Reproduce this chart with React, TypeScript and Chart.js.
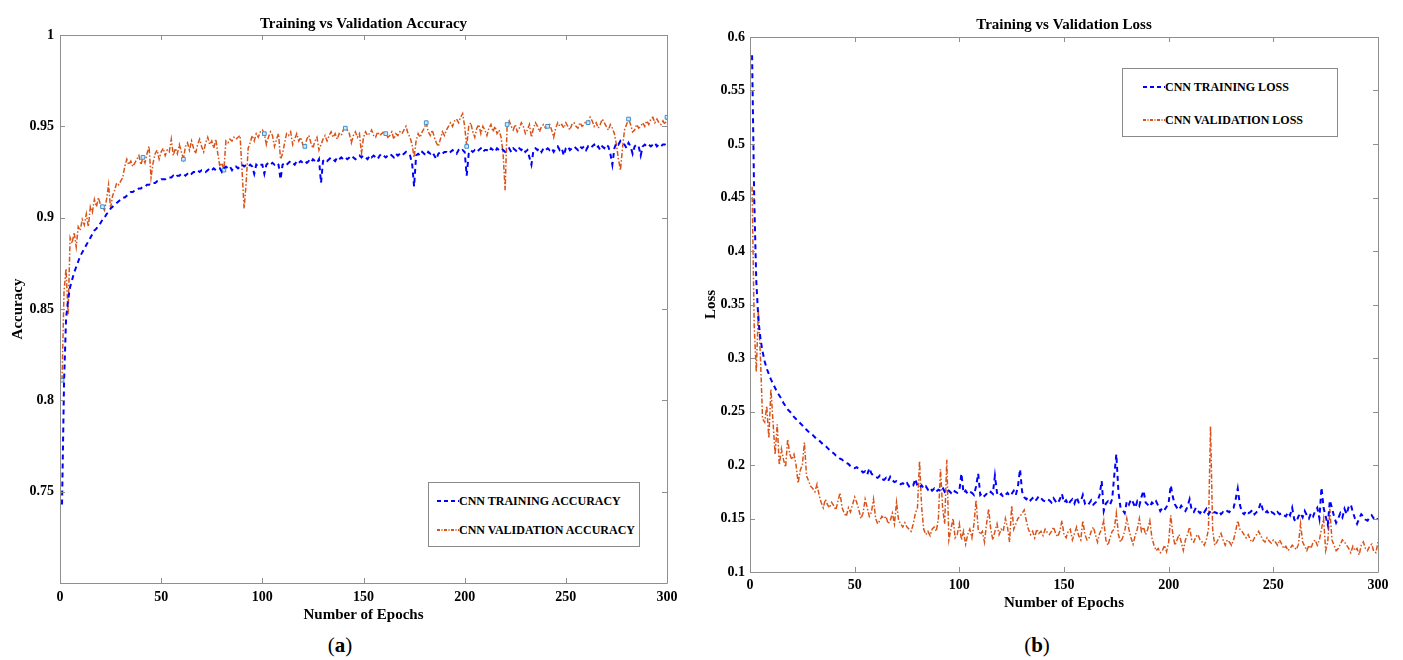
import React, { useEffect, useRef } from "react";
import { Chart, registerables } from "chart.js";

Chart.register(...registerables);

// ---------------- data ----------------
const EPOCHS = Array.from({ length: 300 }, (_, i) => i + 1);
const X_TICKS = [0, 50, 100, 150, 200, 250, 300];
const X_LABELS = ["0", "50", "100", "150", "200", "250", "300"];
const ACC_Y_TICKS = [0.7, 0.75, 0.8, 0.85, 0.9, 0.95, 1];
const ACC_Y_LABELS = ["", "0.75", "0.8", "0.85", "0.9", "0.95", "1"];
const LOSS_Y_TICKS = [0.1, 0.15, 0.2, 0.25, 0.3, 0.35, 0.4, 0.45, 0.5, 0.55, 0.6];
const LOSS_Y_LABELS = ["0.1", "0.15", "0.2", "0.25", "0.3", "0.35", "0.4", "0.45", "0.5", "0.55", "0.6"];
const MARKER_EPOCHS = [1, 21, 41, 61, 81, 101, 121, 141, 161, 181, 201, 221, 241, 261, 281, 300];

const TRAIN_ACC = [
  0.743, 0.810, 0.845, 0.855, 0.862, 0.866, 0.870, 0.873, 0.876, 0.879,
  0.881, 0.883, 0.885, 0.887, 0.889, 0.891, 0.893, 0.894, 0.896, 0.897,
  0.899, 0.900, 0.902, 0.903, 0.905, 0.906, 0.907, 0.908, 0.909, 0.910,
  0.911, 0.911, 0.912, 0.913, 0.914, 0.914, 0.915, 0.915, 0.916, 0.916,
  0.917, 0.917, 0.918, 0.918, 0.919, 0.919, 0.919, 0.920, 0.920, 0.921,
  0.921, 0.921, 0.922, 0.922, 0.922, 0.923, 0.922, 0.923, 0.923, 0.924,
  0.924, 0.923, 0.924, 0.925, 0.924, 0.925, 0.925, 0.926, 0.925, 0.926,
  0.926, 0.925, 0.926, 0.927, 0.926, 0.927, 0.926, 0.927, 0.927, 0.925,
  0.927, 0.928, 0.927, 0.928, 0.926, 0.928, 0.928, 0.927, 0.928, 0.929,
  0.928, 0.929, 0.928, 0.929, 0.928, 0.924, 0.929, 0.928, 0.929, 0.929,
  0.924, 0.929, 0.930, 0.929, 0.930, 0.929, 0.930, 0.929, 0.921, 0.929,
  0.930, 0.929, 0.930, 0.931, 0.930, 0.929, 0.931, 0.930, 0.931, 0.930,
  0.931, 0.930, 0.931, 0.930, 0.932, 0.931, 0.930, 0.932, 0.919, 0.931,
  0.932, 0.931, 0.932, 0.933, 0.932, 0.931, 0.933, 0.932, 0.933, 0.932,
  0.933, 0.932, 0.933, 0.934, 0.933, 0.932, 0.933, 0.934, 0.933, 0.934,
  0.933, 0.932, 0.934, 0.933, 0.934, 0.933, 0.932, 0.934, 0.935, 0.934,
  0.933, 0.934, 0.935, 0.934, 0.933, 0.935, 0.934, 0.935, 0.934, 0.935,
  0.936, 0.935, 0.934, 0.930, 0.917, 0.934, 0.935, 0.934, 0.936, 0.935,
  0.934, 0.936, 0.935, 0.936, 0.934, 0.932, 0.935, 0.936, 0.935, 0.936,
  0.936, 0.935, 0.936, 0.937, 0.936, 0.935, 0.937, 0.936, 0.937, 0.936,
  0.923, 0.935, 0.937, 0.936, 0.937, 0.936, 0.937, 0.938, 0.936, 0.937,
  0.937, 0.936, 0.938, 0.937, 0.936, 0.938, 0.937, 0.938, 0.937, 0.936,
  0.937, 0.938, 0.936, 0.938, 0.937, 0.936, 0.938, 0.937, 0.938, 0.936,
  0.937, 0.933, 0.929, 0.937, 0.938, 0.937, 0.938, 0.936, 0.938, 0.937,
  0.938, 0.937, 0.938, 0.936, 0.938, 0.939, 0.937, 0.938, 0.934, 0.938,
  0.939, 0.937, 0.938, 0.939, 0.938, 0.937, 0.939, 0.938, 0.939, 0.937,
  0.939, 0.938, 0.939, 0.940, 0.938, 0.939, 0.937, 0.939, 0.938, 0.940,
  0.939, 0.935, 0.929, 0.938, 0.941, 0.940, 0.942, 0.941, 0.940, 0.938,
  0.941, 0.939, 0.935, 0.939, 0.940, 0.939, 0.934, 0.939, 0.940, 0.939,
  0.940, 0.939, 0.940, 0.941, 0.939, 0.940, 0.939, 0.940, 0.940, 0.939,
];

const VAL_ACC = [
  0.811, 0.860, 0.872, 0.847, 0.889, 0.886, 0.892, 0.884, 0.895, 0.893,
  0.899, 0.896, 0.902, 0.895, 0.906, 0.903, 0.910, 0.906, 0.911, 0.907,
  0.906, 0.904, 0.910, 0.918, 0.905, 0.912, 0.915, 0.919, 0.918, 0.920,
  0.922, 0.928, 0.932, 0.929, 0.931, 0.928, 0.930, 0.932, 0.934, 0.929,
  0.933, 0.930, 0.935, 0.939, 0.922, 0.930, 0.935, 0.937, 0.932, 0.936,
  0.938, 0.934, 0.937, 0.936, 0.943, 0.934, 0.938, 0.935, 0.940, 0.936,
  0.932, 0.939, 0.941, 0.937, 0.942, 0.938, 0.935, 0.940, 0.943, 0.939,
  0.936, 0.941, 0.944, 0.940, 0.942, 0.938, 0.943, 0.935, 0.928, 0.930,
  0.926, 0.942, 0.941, 0.943, 0.942, 0.944, 0.943, 0.944, 0.945, 0.925,
  0.905, 0.919, 0.938, 0.941, 0.945, 0.942, 0.946, 0.944, 0.947, 0.948,
  0.946, 0.940, 0.944, 0.947, 0.945, 0.939, 0.943, 0.946, 0.932, 0.935,
  0.941, 0.946, 0.945, 0.947, 0.940, 0.943, 0.946, 0.942, 0.944, 0.940,
  0.939, 0.943, 0.945, 0.941, 0.938, 0.942, 0.944, 0.937, 0.940, 0.943,
  0.945, 0.942, 0.945, 0.947, 0.944, 0.946, 0.943, 0.946, 0.945, 0.948,
  0.949, 0.948, 0.946, 0.941, 0.945, 0.947, 0.944, 0.946, 0.935, 0.944,
  0.947, 0.945, 0.946, 0.948, 0.945, 0.944, 0.947, 0.945, 0.946, 0.947,
  0.946, 0.944, 0.945, 0.947, 0.943, 0.946, 0.945, 0.947, 0.946, 0.948,
  0.950, 0.946, 0.944, 0.940, 0.933, 0.942, 0.946, 0.944, 0.947, 0.949,
  0.952, 0.947, 0.945, 0.948, 0.944, 0.941, 0.939, 0.943, 0.947, 0.945,
  0.948, 0.950, 0.952, 0.950, 0.953, 0.954, 0.952, 0.955, 0.957, 0.950,
  0.939, 0.950, 0.952, 0.947, 0.944, 0.949, 0.951, 0.946, 0.950, 0.948,
  0.945, 0.949, 0.951, 0.947, 0.950, 0.946, 0.948, 0.944, 0.935, 0.915,
  0.951, 0.953, 0.950, 0.948, 0.951, 0.947, 0.949, 0.952, 0.950, 0.946,
  0.948, 0.951, 0.944, 0.949, 0.952, 0.950, 0.947, 0.950, 0.951, 0.949,
  0.950, 0.951, 0.948, 0.944, 0.949, 0.952, 0.950, 0.951, 0.949, 0.952,
  0.950, 0.948, 0.951, 0.952, 0.950, 0.949, 0.952, 0.950, 0.951, 0.953,
  0.952, 0.955, 0.953, 0.950, 0.952, 0.949, 0.951, 0.954, 0.952, 0.950,
  0.948, 0.951, 0.949, 0.946, 0.940, 0.932, 0.926, 0.938, 0.948, 0.951,
  0.954, 0.951, 0.947, 0.948, 0.951, 0.949, 0.950, 0.952, 0.950, 0.953,
  0.951, 0.954, 0.955, 0.952, 0.954, 0.952, 0.951, 0.953, 0.951, 0.955,
];

const TRAIN_LOSS = [
  0.583, 0.450, 0.372, 0.336, 0.318, 0.306, 0.297, 0.290, 0.285, 0.280,
  0.276, 0.272, 0.268, 0.265, 0.262, 0.258, 0.255, 0.252, 0.250, 0.248,
  0.245, 0.243, 0.241, 0.239, 0.237, 0.234, 0.233, 0.231, 0.229, 0.228,
  0.226, 0.224, 0.223, 0.221, 0.219, 0.218, 0.216, 0.214, 0.212, 0.211,
  0.209, 0.208, 0.206, 0.205, 0.203, 0.202, 0.201, 0.199, 0.198, 0.197,
  0.198, 0.196, 0.195, 0.193, 0.194, 0.191, 0.197, 0.192, 0.190, 0.189,
  0.188, 0.190, 0.187, 0.186, 0.188, 0.185, 0.189, 0.186, 0.184, 0.185,
  0.184, 0.182, 0.183, 0.181, 0.183, 0.180, 0.182, 0.181, 0.187, 0.180,
  0.179, 0.181, 0.178, 0.180, 0.177, 0.179, 0.176, 0.178, 0.175, 0.177,
  0.176, 0.179, 0.175, 0.177, 0.176, 0.174, 0.177, 0.175, 0.174, 0.176,
  0.192, 0.174, 0.176, 0.173, 0.175, 0.174, 0.172, 0.180, 0.192, 0.172,
  0.174, 0.171, 0.173, 0.172, 0.175, 0.173, 0.190, 0.174, 0.171, 0.173,
  0.170, 0.172, 0.174, 0.171, 0.173, 0.176, 0.172, 0.180, 0.196, 0.175,
  0.170, 0.168, 0.170, 0.167, 0.169, 0.166, 0.168, 0.171, 0.169, 0.167,
  0.166, 0.168, 0.167, 0.165, 0.169, 0.166, 0.164, 0.168, 0.173, 0.165,
  0.167, 0.163, 0.166, 0.168, 0.164, 0.170, 0.165, 0.166, 0.172, 0.164,
  0.166, 0.164, 0.167, 0.163, 0.165, 0.166, 0.172, 0.185, 0.157, 0.164,
  0.166, 0.163, 0.168, 0.190, 0.210, 0.175, 0.160, 0.158, 0.155, 0.166,
  0.163, 0.168, 0.165, 0.160, 0.166, 0.162, 0.170, 0.176, 0.165, 0.163,
  0.161, 0.165, 0.163, 0.166, 0.162, 0.157, 0.160, 0.158, 0.161, 0.165,
  0.181, 0.170, 0.163, 0.160, 0.158, 0.162, 0.159, 0.157, 0.161, 0.168,
  0.158, 0.156, 0.160, 0.157, 0.155, 0.158, 0.156, 0.159, 0.154, 0.157,
  0.155, 0.156, 0.155, 0.157, 0.154, 0.156, 0.155, 0.157, 0.156, 0.159,
  0.160, 0.168, 0.178, 0.163, 0.156, 0.154, 0.157, 0.155, 0.156, 0.158,
  0.154, 0.156, 0.159, 0.165, 0.158, 0.155, 0.157, 0.154, 0.156, 0.155,
  0.153, 0.156, 0.154, 0.155, 0.153, 0.152, 0.156, 0.153, 0.160, 0.149,
  0.147, 0.152, 0.155, 0.151, 0.157, 0.153, 0.150, 0.155, 0.152, 0.157,
  0.160, 0.150, 0.179, 0.160, 0.152, 0.144, 0.167, 0.160, 0.152, 0.146,
  0.150, 0.155, 0.151, 0.159, 0.154, 0.161, 0.163, 0.156, 0.150, 0.145,
  0.150, 0.154, 0.152, 0.149, 0.148, 0.151, 0.153, 0.150, 0.148, 0.150,
];

const VAL_LOSS = [
  0.460, 0.330, 0.287, 0.345, 0.300, 0.243, 0.240, 0.255, 0.225, 0.271,
  0.240, 0.210, 0.238, 0.200, 0.215, 0.205, 0.198, 0.224, 0.210, 0.205,
  0.210, 0.200, 0.183, 0.195, 0.200, 0.221, 0.190, 0.185, 0.180, 0.178,
  0.175, 0.182, 0.172, 0.165, 0.160, 0.168, 0.163, 0.160, 0.165, 0.162,
  0.158, 0.166, 0.174, 0.160, 0.155, 0.152, 0.160, 0.156, 0.163, 0.170,
  0.165, 0.158, 0.150, 0.155, 0.168, 0.160, 0.152, 0.156, 0.168, 0.150,
  0.145, 0.148, 0.152, 0.150, 0.152, 0.145, 0.148, 0.155, 0.145, 0.165,
  0.148, 0.145, 0.142, 0.146, 0.142, 0.140, 0.138, 0.145, 0.155, 0.160,
  0.204, 0.160, 0.140, 0.135, 0.138, 0.134, 0.140, 0.142, 0.138, 0.150,
  0.196, 0.160, 0.145, 0.205, 0.130, 0.140, 0.150, 0.132, 0.135, 0.145,
  0.130, 0.138, 0.126, 0.135, 0.140, 0.132, 0.145, 0.167, 0.140, 0.135,
  0.138, 0.128, 0.145, 0.159, 0.140, 0.130, 0.138, 0.145, 0.135, 0.140,
  0.138, 0.150, 0.142, 0.128, 0.162, 0.140, 0.145, 0.150, 0.152, 0.155,
  0.158, 0.148, 0.140, 0.135, 0.138, 0.132, 0.140, 0.136, 0.138, 0.134,
  0.140, 0.137, 0.135, 0.138, 0.142, 0.136, 0.133, 0.138, 0.148, 0.135,
  0.132, 0.138, 0.140, 0.130, 0.136, 0.142, 0.134, 0.130, 0.148, 0.135,
  0.130, 0.132, 0.138, 0.142, 0.135, 0.128, 0.136, 0.140, 0.148, 0.130,
  0.125, 0.132, 0.138, 0.140, 0.155, 0.135, 0.128, 0.132, 0.138, 0.150,
  0.140, 0.132, 0.126, 0.134, 0.140, 0.150, 0.138, 0.142, 0.135, 0.140,
  0.148, 0.132, 0.125, 0.120, 0.122, 0.118, 0.120, 0.125, 0.119, 0.128,
  0.153, 0.135, 0.125, 0.130, 0.135, 0.128, 0.120, 0.130, 0.135, 0.142,
  0.130, 0.128, 0.133, 0.135, 0.130, 0.128, 0.125, 0.130, 0.140, 0.236,
  0.140, 0.125, 0.128, 0.132, 0.136, 0.130, 0.125, 0.130, 0.128, 0.125,
  0.130, 0.138, 0.148, 0.140, 0.138, 0.135, 0.132, 0.135, 0.130, 0.128,
  0.132, 0.135, 0.138, 0.134, 0.130, 0.128, 0.132, 0.129, 0.127, 0.130,
  0.128, 0.125, 0.130, 0.126, 0.122, 0.124, 0.120, 0.122, 0.125, 0.123,
  0.121, 0.126, 0.145, 0.128, 0.124, 0.120, 0.125, 0.122, 0.128, 0.130,
  0.125, 0.130, 0.140, 0.150, 0.120, 0.128, 0.159, 0.130, 0.125, 0.120,
  0.122, 0.126, 0.130, 0.128, 0.125, 0.122, 0.118, 0.124, 0.120, 0.122,
  0.116, 0.125, 0.128, 0.122, 0.120, 0.124, 0.126, 0.119, 0.118, 0.128,
];

// ---------------- styles ----------------
const FONT = "'Liberation Serif', 'Times New Roman', Times, serif";
const BLUE = "#0000ff";
const ORANGE = "#d95319";
const FRAME = "#8f8f8f";

function makeFramePlugin(yTicks: number[]) {
  return {
    id: "matlabFrame",
    afterDatasetsDraw(chart: any) {
      const { ctx, chartArea } = chart;
      const xs = chart.scales.x;
      const ys = chart.scales.y;
      const { left, right, top, bottom } = chartArea;
      const tl = 5;
      ctx.save();
      ctx.strokeStyle = FRAME;
      ctx.lineWidth = 1;
      ctx.beginPath();
      ctx.rect(Math.round(left) + 0.5, Math.round(top) + 0.5, Math.round(right - left), Math.round(bottom - top));
      X_TICKS.forEach((v) => {
        const px = Math.round(xs.getPixelForValue(v)) + 0.5;
        ctx.moveTo(px, bottom);
        ctx.lineTo(px, bottom - tl);
        ctx.moveTo(px, top);
        ctx.lineTo(px, top + tl);
      });
      yTicks.forEach((v) => {
        const py = Math.round(ys.getPixelForValue(v)) + 0.5;
        ctx.moveTo(left, py);
        ctx.lineTo(left + tl, py);
        ctx.moveTo(right, py);
        ctx.lineTo(right - tl, py);
      });
      ctx.stroke();
      ctx.restore();
    },
  };
}

type Spec = {
  title: string;
  yTitle: string;
  train: number[];
  val: number[];
  trainLabel: string;
  valLabel: string;
  yMin: number;
  yMax: number;
  yTicks: number[];
  yLabels: string[];
  yWidth: number;
  xHeight: number;
  padRight: number;
  titlePad: { top: number; bottom: number };
  yTitlePad: number;
  yTickPad: number;
  xTickPad: number;
  xTitlePad: number;
  markers: boolean;
};

function ChartPanel({ spec, width, height }: { spec: Spec; width: number; height: number }) {
  const ref = useRef<HTMLCanvasElement | null>(null);
  useEffect(() => {
    if (!ref.current) return;
    const chart = new Chart(ref.current, {
      type: "line",
      data: {
        datasets: [
          {
            label: spec.trainLabel,
            data: EPOCHS.map((e, i) => ({ x: e, y: spec.train[i] })),
            borderColor: BLUE,
            backgroundColor: BLUE,
            borderWidth: 2,
            borderDash: [5, 4],
            pointRadius: 0,
            fill: false,
            tension: 0,
          },
          {
            label: spec.valLabel,
            data: EPOCHS.map((e, i) => ({ x: e, y: spec.val[i] })),
            borderColor: ORANGE,
            backgroundColor: ORANGE,
            borderWidth: 1.5,
            borderDash: [5, 2, 1.5, 2],
            pointRadius: (c: any) =>
              spec.markers && MARKER_EPOCHS.includes(c.dataIndex + 1) ? 2.6 : 0,
            pointStyle: "rect",
            pointBorderColor: "#3c8fcf",
            pointBackgroundColor: "#d4eaf7",
            pointBorderWidth: 1,
            fill: false,
            tension: 0,
          },
        ],
      },
      options: {
        responsive: false,
        animation: false,
        events: [],
        layout: { padding: { left: 0, right: spec.padRight, top: 0, bottom: 0 } },
        plugins: {
          legend: { display: false },
          tooltip: { enabled: false },
          title: {
            display: true,
            text: spec.title,
            color: "#000",
            fullSize: false,
            font: { family: FONT, size: 15, weight: "bold" },
            padding: spec.titlePad,
          },
        },
        scales: {
          x: {
            type: "linear",
            min: 0,
            max: 300,
            afterFit: (s: any) => {
              s.height = spec.xHeight;
            },
            afterBuildTicks: (s: any) => {
              s.ticks = X_TICKS.map((v) => ({ value: v }));
            },
            grid: { display: false, drawTicks: false },
            border: { display: false },
            ticks: {
              color: "#000",
              padding: spec.xTickPad,
              maxRotation: 0,
              autoSkip: false,
              font: { family: FONT, size: 14, weight: "bold" },
              callback: (_v: any, i: number) => X_LABELS[i],
            },
            title: {
              display: true,
              text: "Number of Epochs",
              color: "#000",
              font: { family: FONT, size: 15, weight: "bold" },
              padding: { top: 0, bottom: spec.xTitlePad },
            },
          },
          y: {
            type: "linear",
            min: spec.yMin,
            max: spec.yMax,
            afterFit: (s: any) => {
              s.width = spec.yWidth;
            },
            afterBuildTicks: (s: any) => {
              s.ticks = spec.yTicks.map((v) => ({ value: v }));
            },
            grid: { display: false, drawTicks: false },
            border: { display: false },
            ticks: {
              color: "#000",
              padding: spec.yTickPad,
              autoSkip: false,
              font: { family: FONT, size: 14, weight: "bold" },
              callback: (_v: any, i: number) => spec.yLabels[i],
            },
            title: {
              display: true,
              text: spec.yTitle,
              color: "#000",
              font: { family: FONT, size: 15, weight: "bold" },
              padding: { top: spec.yTitlePad, bottom: 0 },
            },
          },
        },
      } as any,
      plugins: [makeFramePlugin(spec.yTicks)],
    });
    return () => chart.destroy();
  }, [spec]);
  return <canvas ref={ref} width={width} height={height} style={{ width, height, display: "block" }} />;
}

const ACC_SPEC: Spec = {
  title: "Training vs Validation Accuracy",
  yTitle: "Accuracy",
  train: TRAIN_ACC,
  val: VAL_ACC,
  trainLabel: "CNN TRAINING ACCURACY",
  valLabel: "CNN VALIDATION ACCURACY",
  yMin: 0.7,
  yMax: 1,
  yTicks: ACC_Y_TICKS,
  yLabels: ACC_Y_LABELS,
  yWidth: 60,
  xHeight: 47,
  padRight: 33,
  titlePad: { top: 15, bottom: 2 },
  yTitlePad: 9,
  yTickPad: 6,
  xTickPad: 6,
  xTitlePad: 6,
  markers: true,
};

const LOSS_SPEC: Spec = {
  title: "Training vs Validation Loss",
  yTitle: "Loss",
  train: TRAIN_LOSS,
  val: VAL_LOSS,
  trainLabel: "CNN TRAINING LOSS",
  valLabel: "CNN VALIDATION LOSS",
  yMin: 0.1,
  yMax: 0.6,
  yTicks: LOSS_Y_TICKS,
  yLabels: LOSS_Y_LABELS,
  yWidth: 50,
  xHeight: 58,
  padRight: 25,
  titlePad: { top: 16, bottom: 3 },
  yTitlePad: 2,
  yTickPad: 5,
  xTickPad: 5,
  xTitlePad: 18,
  markers: false,
};

function LegendBox({
  left,
  top,
  width,
  height,
  rows,
}: {
  left: number;
  top: number;
  width: number;
  height: number;
  rows: { label: string; color: string; dash: string; y: number; x: number }[];
}) {
  return (
    <div
      style={{
        position: "absolute",
        left,
        top,
        width,
        height,
        border: "1px solid #8a8a8a",
        background: "#fff",
        boxSizing: "border-box",
      }}
    >
      {rows.map((r) => (
        <div
          key={r.label}
          style={{
            position: "absolute",
            left: r.x,
            top: r.y - 8,
            height: 16,
            display: "flex",
            alignItems: "center",
            whiteSpace: "nowrap",
            fontFamily: FONT,
            fontWeight: "bold",
            fontSize: 12,
            color: "#000",
          }}
        >
          <svg width={22} height={4} style={{ display: "block" }}>
            <line x1={0} y1={2} x2={22} y2={2} stroke={r.color} strokeWidth={2} strokeDasharray={r.dash} />
          </svg>
          <span>{r.label}</span>
        </div>
      ))}
    </div>
  );
}

export default function App() {
  return (
    <div
      style={{
        position: "fixed",
        left: 0,
        top: 0,
        width: 1403,
        height: 660,
        background: "#fff",
        overflow: "hidden",
      }}
    >
      <div style={{ position: "absolute", left: 0, top: 0 }}>
        <ChartPanel spec={ACC_SPEC} width={700} height={630} />
      </div>
      <div style={{ position: "absolute", left: 700, top: 0 }}>
        <ChartPanel spec={LOSS_SPEC} width={703} height={630} />
      </div>
      <LegendBox
        left={428}
        top={482}
        width={212}
        height={65}
        rows={[
          { label: "CNN TRAINING ACCURACY", color: BLUE, dash: "4 3", y: 18, x: 8 },
          { label: "CNN VALIDATION ACCURACY", color: ORANGE, dash: "3 1.5 1 1.5", y: 47, x: 8 },
        ]}
      />
      <LegendBox
        left={1122}
        top={68}
        width={216}
        height={69}
        rows={[
          { label: "CNN TRAINING LOSS", color: BLUE, dash: "4 3", y: 18, x: 20 },
          { label: "CNN VALIDATION LOSS", color: ORANGE, dash: "3 1.5 1 1.5", y: 51, x: 20 },
        ]}
      />
      <div
        style={{
          position: "absolute",
          left: 290,
          width: 100,
          top: 632,
          textAlign: "center",
          fontFamily: FONT,
          fontSize: 21,
          color: "#000",
          lineHeight: "26px",
        }}
      >
        (<b>a</b>)
      </div>
      <div
        style={{
          position: "absolute",
          left: 987,
          width: 100,
          top: 632,
          textAlign: "center",
          fontFamily: FONT,
          fontSize: 21,
          color: "#000",
          lineHeight: "26px",
        }}
      >
        (<b>b</b>)
      </div>
    </div>
  );
}
